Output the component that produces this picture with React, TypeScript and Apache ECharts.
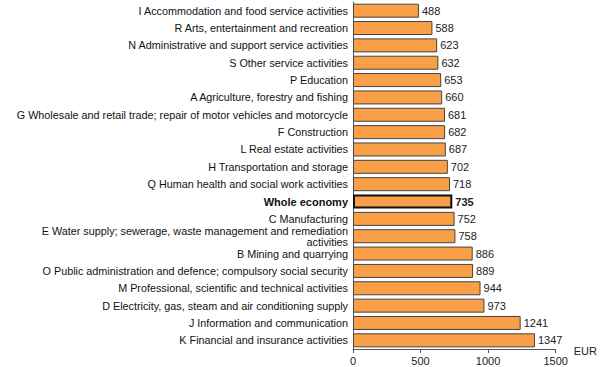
import React, { useEffect, useRef } from "react";
import * as echarts from "echarts";

const categories = [
  "I Accommodation and food service activities",
  "R Arts, entertainment and recreation",
  "N Administrative and support service activities",
  "S Other service activities",
  "P Education",
  "A Agriculture, forestry and fishing",
  "G Wholesale and retail trade; repair of motor vehicles and motorcycle",
  "F Construction",
  "L Real estate activities",
  "H Transportation and storage",
  "Q Human health and social work activities",
  "Whole economy",
  "C Manufacturing",
  "E Water supply; sewerage, waste management and remediation\nactivities",
  "B Mining and quarrying",
  "O Public administration and defence; compulsory social security",
  "M Professional, scientific and technical activities",
  "D Electricity, gas, steam and air conditioning supply",
  "J Information and communication",
  "K Financial and insurance activities",
];

const values = [488, 588, 623, 632, 653, 660, 681, 682, 687, 702, 718, 735, 752, 758, 886, 889, 944, 973, 1241, 1347];

const highlight = "Whole economy";

export default function App() {
  const ref = useRef<HTMLDivElement>(null);
  useEffect(() => {
    if (!ref.current) return;
    const chart = echarts.init(ref.current, null, { renderer: "svg" });
    const font = "'Liberation Sans', Arial, sans-serif";
    chart.setOption({
      animation: false,
      grid: { left: 353, right: 41, top: 2, bottom: 18, containLabel: false },
      xAxis: {
        type: "value",
        min: 0,
        max: 1500,
        interval: 500,
        name: "EUR",
        nameLocation: "end",
        nameGap: 12,
        nameTextStyle: { color: "#222", fontSize: 11, fontFamily: font, verticalAlign: "top", padding: [-4, 0, 0, 0] },
        axisLine: { show: true, lineStyle: { color: "#555", width: 1 } },
        axisTick: { show: true, length: 4, lineStyle: { color: "#555" } },
        axisLabel: { color: "#222", fontSize: 11, fontFamily: font, margin: 6, formatter: (v: number) => String(v) },
        splitLine: { show: false },
      },
      yAxis: {
        type: "category",
        inverse: true,
        data: categories,
        axisLine: { show: true, lineStyle: { color: "#555", width: 1 } },
        axisTick: { show: false },
        axisLabel: {
          color: "#111",
          fontSize: 10.8,
          fontFamily: font,
          margin: 5,
          lineHeight: 11,
          formatter: (v: string) => (v === highlight ? "{b|" + v + "}" : v),
          rich: { b: { fontWeight: "bold", fontSize: 11, fontFamily: font, color: "#111" } },
        },
      },
      series: [
        {
          type: "bar",
          barWidth: 14,
          data: values.map((v, i) => ({
            value: v,
            itemStyle:
              categories[i] === highlight
                ? { color: "#F99F48", borderColor: "#111", borderWidth: 2 }
                : { color: "#F99F48", borderColor: "#444", borderWidth: 1 },
            label:
              categories[i] === highlight ? { fontWeight: "bold" } : {},
          })),
          label: {
            show: true,
            position: "right",
            distance: 3,
            color: "#222",
            fontSize: 11,
            fontFamily: font,
          },
        },
      ],
    });
    return () => chart.dispose();
  }, []);
  return <div ref={ref} style={{ width: 600, height: 367, position: "absolute", left: 0, top: 0 }} />;
}
